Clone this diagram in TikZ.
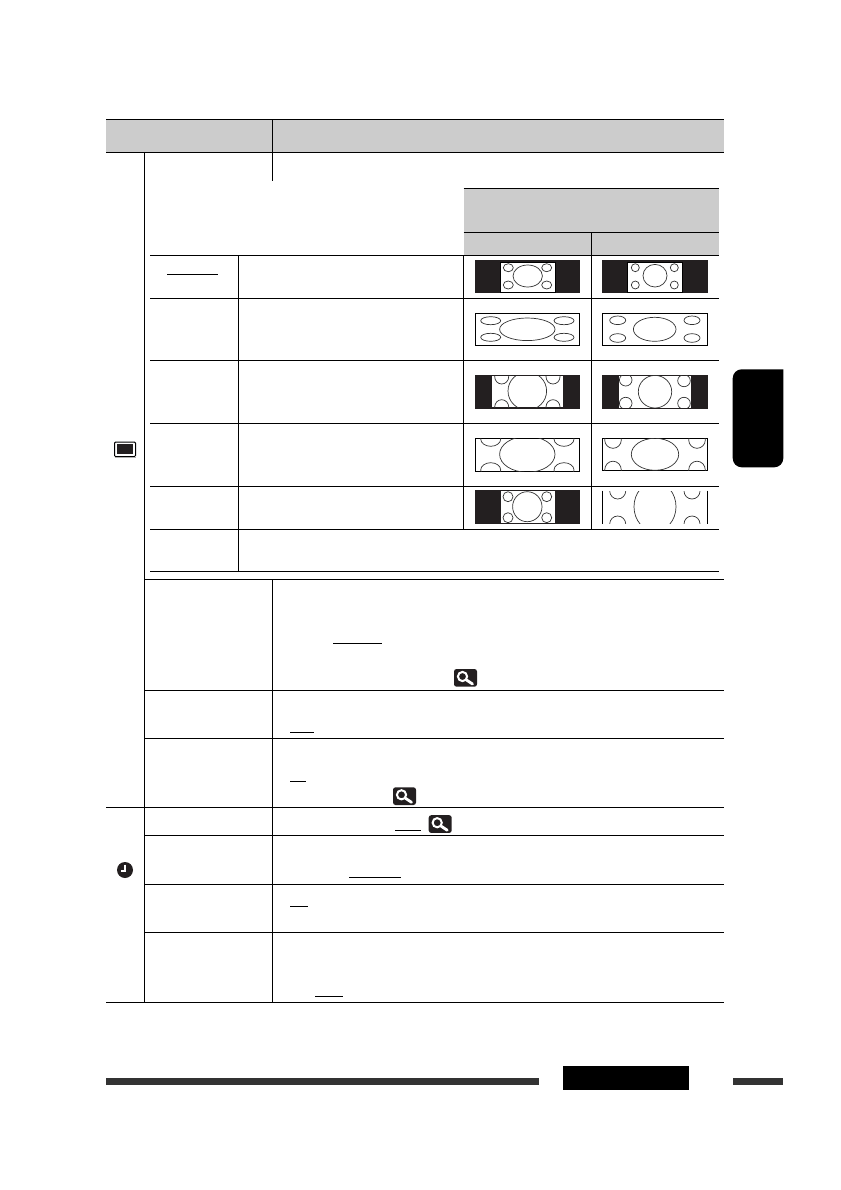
\documentclass[tikz,border=0pt]{standalone}
\definecolor{headgray}{gray}{0.8}
\definecolor{bardark}{HTML}{333333}
\definecolor{shotdark}{HTML}{231F20}
\tikzset{
  rule/.style={line width=1pt, black},
  ring/.style={line width=0.7pt, black!80},
  shot/.style={fill=shotdark},
  pane/.style={fill=white, draw=black, line width=0.8pt},
  endbar/.style={fill=bardark}
}
% lens icon, given by its top left corner
\newcommand{\lensicon}[2]{
  \fill[shotdark, rounded corners=2.5pt] (#1,#2) rectangle ++(23,17.7);
  \draw[white, line width=2pt] (#1+8.5,#2+7.5) circle [radius=4.6pt];
  \draw[white, line width=2.8pt, line cap=round] (#1+12.5,#2+11) -- (#1+18.5,#2+15);
}
\begin{document}
\begin{tikzpicture}[x=1pt, y=-1pt]
        \useasboundingbox (0,0) rectangle (840,1190);

        % Grey headers
        \fill[headgray] (106,120) rectangle (724,153);
        \fill[headgray] (463.5,188.3) rectangle (718.7,255);

        % Long rules
        \draw[rule] (106,119.7) -- (724,119.7);
        \draw[rule] (106,153) -- (724,153);
        \draw[rule] (106,807.2) -- (724,807.2);
        \draw[rule] (106,1002) -- (724,1002);
        \draw[rule] (144.5,153) -- (144.5,1002);
        \draw[rule] (272.5,120) -- (272.5,181);
        \draw[rule] (272.5,579.3) -- (272.5,1002);

        % Lower rows
        \draw[rule] (144.5,579.3) -- (724,579.3);
        \draw[rule] (144.5,690) -- (724,690);
        \draw[rule] (144.5,738.3) -- (724,738.3);
        \draw[rule] (144.5,835) -- (724,835);
        \draw[rule] (144.5,884) -- (724,884);
        \draw[rule] (144.5,932.3) -- (724,932.3);

        % Inner table
        \draw[rule] (463.5,188.3) -- (718.7,188.3);
        \draw[rule] (463.5,232.3) -- (718.7,232.3);
        \draw[rule] (150,255.3) -- (718.7,255.3);
        \draw[rule] (150,298.3) -- (718.7,298.3);
        \draw[rule] (150,360.3) -- (718.7,360.3);
        \draw[rule] (150,423.3) -- (718.7,423.3);
        \draw[rule] (150,486.7) -- (718.7,486.7);
        \draw[rule] (150,529) -- (718.7,529);
        \draw[rule] (150,571) -- (718.7,571);
        \draw[rule] (238.3,255.3) -- (238.3,571);
        \draw[rule] (463.5,255.3) -- (463.5,529);
        \draw[rule] (591.3,232.3) -- (591.3,529);

        % Underlines
        \draw[rule] (167,274.3) -- (218,274.3);
        \draw[rule] (333,643.3) -- (382,643.3);
        \draw[rule] (290,732.7) -- (314,732.7);
        \draw[rule] (290,781.7) -- (306,781.7);
        \draw[rule] (395.3,830) -- (421,830);
        \draw[rule] (349.3,877.7) -- (401,877.7);
        \draw[rule] (290,906.3) -- (308,906.3);
        \draw[rule] (315,996.7) -- (343,996.7);

        % Row 1
        \fill[shot] (475,260) rectangle (580,292.7);
        \draw[pane] (500.7,262) rectangle (555.3,292);
        \draw[ring] (527.7,276) ellipse [x radius=14.7pt, y radius=11pt];
        \draw[ring] (508.3,267.7) ellipse [x radius=5pt, y radius=4pt];
        \draw[ring] (546.7,267.7) ellipse [x radius=5pt, y radius=4pt];
        \draw[ring] (508.3,285) ellipse [x radius=5pt, y radius=4pt];
        \draw[ring] (546.7,285) ellipse [x radius=5pt, y radius=4pt];
        \fill[shot] (602,260) rectangle (708,292.7);
        \draw[pane] (627.7,262) rectangle (682.3,292);
        \draw[ring] (655,275.7) ellipse [x radius=12pt, y radius=11.3pt];
        \draw[ring] (635.3,267.7) ellipse [x radius=4pt, y radius=4pt];
        \draw[ring] (674.3,267.7) ellipse [x radius=4pt, y radius=4pt];
        \draw[ring] (635.3,285) ellipse [x radius=4pt, y radius=4pt];
        \draw[ring] (674.3,285) ellipse [x radius=4pt, y radius=4pt];

        % Row 2
        \draw[pane] (475.3,313.3) rectangle (579.7,345.3);
        \draw[ring] (527.3,329.3) ellipse [x radius=27.7pt, y radius=11.3pt];
        \draw[ring] (490.7,320.7) ellipse [x radius=10pt, y radius=4pt];
        \draw[ring] (564,320.7) ellipse [x radius=10pt, y radius=4pt];
        \draw[ring] (490.7,337.3) ellipse [x radius=10pt, y radius=4pt];
        \draw[ring] (564,337.3) ellipse [x radius=10pt, y radius=4pt];
        \draw[pane] (602.3,313.3) rectangle (707.7,345.3);
        \draw[ring] (654.7,329.3) ellipse [x radius=21.3pt, y radius=12pt];
        \draw[ring] (617.7,320.3) ellipse [x radius=8pt, y radius=4.3pt];
        \draw[ring] (692,320.3) ellipse [x radius=8pt, y radius=4.3pt];
        \draw[ring] (617.7,338) ellipse [x radius=8pt, y radius=4.3pt];
        \draw[ring] (692,338) ellipse [x radius=8pt, y radius=4.3pt];

        % Row 3
        \fill[shot] (475,375) rectangle (580,408.7);
        \fill[white] (491.7,376) rectangle (563.3,407);
        \begin{scope}
          \clip (491.7,376) rectangle (563.3,407);
          \draw[ring] (527.3,391) ellipse [x radius=19.3pt, y radius=19pt];
          \draw[ring] (501.7,376.7) ellipse [x radius=7pt, y radius=7.3pt];
          \draw[ring] (553,376.7) ellipse [x radius=7pt, y radius=7.3pt];
          \draw[ring] (501.7,407) ellipse [x radius=7pt, y radius=7.3pt];
          \draw[ring] (553,407) ellipse [x radius=7pt, y radius=7.3pt];
        \end{scope}
        \fill[shot] (602,375) rectangle (708,408.7);
        \fill[white] (618.7,375.7) rectangle (691,407.7);
        \begin{scope}
          \clip (618.7,375.7) rectangle (691,407.7);
          \draw[ring] (655,391.7) ellipse [x radius=16.7pt, y radius=16.3pt];
          \draw[ring] (625.7,380) ellipse [x radius=6.3pt, y radius=6pt];
          \draw[ring] (684,380.7) ellipse [x radius=6.3pt, y radius=6pt];
          \draw[ring] (625.7,403.3) ellipse [x radius=6.3pt, y radius=6pt];
          \draw[ring] (684,403.3) ellipse [x radius=6.3pt, y radius=6pt];
        \end{scope}

        % Row 4
        \draw[pane] (475.3,438.3) rectangle (579.7,471);
        \begin{scope}
          \clip (475.3,438.3) rectangle (579.7,471);
          \draw[ring] (527.3,454.3) ellipse [x radius=27.7pt, y radius=18pt];
          \draw[ring] (490.7,439) ellipse [x radius=10pt, y radius=7.3pt];
          \draw[ring] (564,439) ellipse [x radius=10pt, y radius=7.3pt];
          \draw[ring] (490.7,470) ellipse [x radius=10pt, y radius=7.3pt];
          \draw[ring] (564,470) ellipse [x radius=10pt, y radius=7.3pt];
        \end{scope}
        \draw[pane] (602.3,438.3) rectangle (707.7,470.7);
        \begin{scope}
          \clip (602.3,438.3) rectangle (707.7,470.7);
          \draw[ring] (655,454.3) ellipse [x radius=23.7pt, y radius=16pt];
          \draw[ring] (613,440) ellipse [x radius=8.3pt, y radius=8.3pt];
          \draw[ring] (697,440) ellipse [x radius=8.3pt, y radius=8.3pt];
          \draw[ring] (613,470) ellipse [x radius=8.3pt, y radius=8.8pt];
          \draw[ring] (697,470) ellipse [x radius=8.3pt, y radius=8.8pt];
        \end{scope}

        % Row 5
        \fill[shot] (475,490) rectangle (580,523.7);
        \fill[white] (500.7,490.7) rectangle (555.3,523);
        \draw[ring] (527.3,506.7) ellipse [x radius=14.7pt, y radius=15pt];
        \draw[ring] (508,496.7) ellipse [x radius=5pt, y radius=5pt];
        \draw[ring] (546.7,496.7) ellipse [x radius=5pt, y radius=5pt];
        \draw[ring] (508,517.7) ellipse [x radius=5pt, y radius=5pt];
        \draw[ring] (546.7,517.7) ellipse [x radius=5pt, y radius=5pt];
        \draw[line width=1.5pt] (602.7,490.7) -- (602.7,523.7);
        \draw[line width=1.5pt] (707.3,490.7) -- (707.3,523.7);
        \begin{scope}
          \clip (602,491.5) rectangle (708,523.7);
          \draw[ring] (655,506.7) ellipse [x radius=21pt, y radius=24.6pt];
          \draw[ring] (617.7,491) ellipse [x radius=8pt, y radius=8pt];
          \draw[ring] (692,491) ellipse [x radius=8pt, y radius=8pt];
          \draw[ring] (617.7,524) ellipse [x radius=8pt, y radius=8pt];
          \draw[ring] (692,524) ellipse [x radius=8pt, y radius=8pt];
        \end{scope}

        % Screen icon
        \draw[black, line width=1pt, fill=white, rounded corners=1pt] (114.5,442.2) rectangle (135.5,456.5);
        \fill[shotdark] (117,444.2) rectangle (133,454.2);
        \draw[black!30, line width=0.8pt] (115,457.5) -- (136,457.5);

        % Clock icon
        \fill[shotdark] (125,870) circle [radius=8pt];
        \draw[white, line width=1.3pt] (125,864.5) -- (125,871) -- (120.5,871);

        % Lens icons
        \lensicon{454}{669}
        \lensicon{393}{787.3}
        \lensicon{428.7}{815.2}

        % Side tab and bottom bars
        \fill[black, rounded corners=9pt] (783.3,369.3) -- (732.7,369.3) -- (732.7,467.3) -- (783.3,467.3) [sharp corners] -- cycle;
        \fill[endbar] (106,1078) rectangle (539,1085);
        \fill[black] (563,1066) rectangle (689,1090);
        \fill[endbar] (733,1078) rectangle (783.3,1085);
    \end{tikzpicture}
\end{document}
